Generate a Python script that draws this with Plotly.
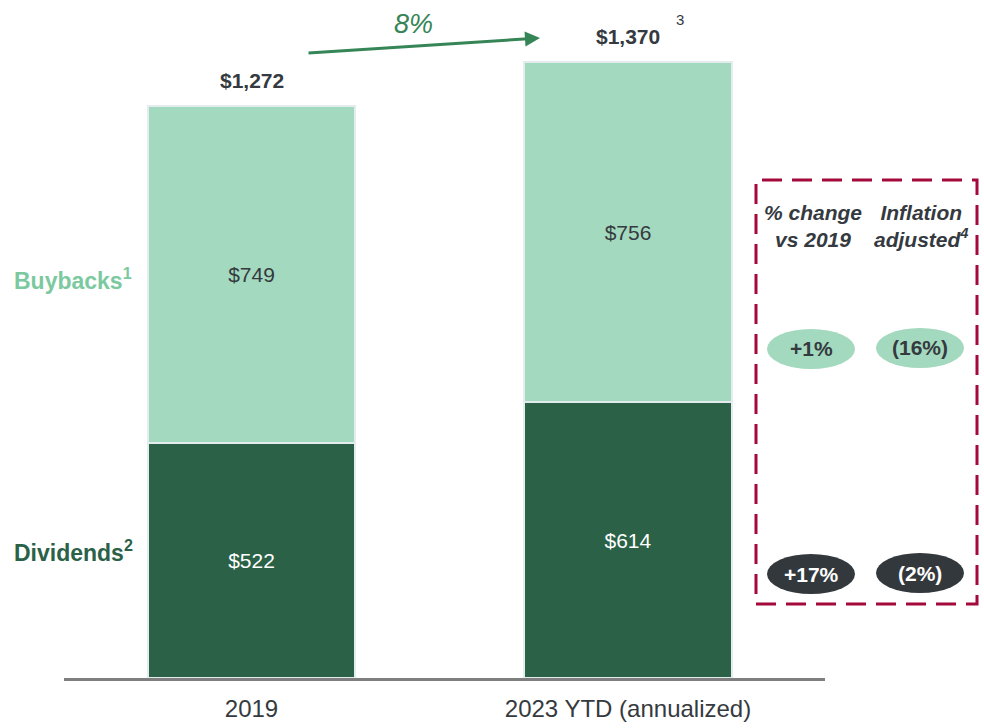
import plotly.graph_objects as go

categories = ["2019", "2023 YTD (annualized)"]
dividends = [522, 614]
buybacks = [749, 756]
totals = [1272, 1370]
total_labels = ["$1,272", "$1,370"]
growth_label = "8%"
pct_change = ["+1%", "+17%"]          # buybacks, dividends
infl_adjusted = ["(16%)", "(2%)"]     # buybacks, dividends

W, H = 984, 728
L, R, T, B = 64, 159, 10, 50
PW, PH = W - L - R, H - T - B


def px(x):
    return (x - L) / PW


def py(y):
    return (H - B - y) / PH


LIGHT = "#A3D9BE"
DARK = "#2A6147"
TXT = "#353A40"
GREEN_TXT = "#7CC9A0"

fig = go.Figure()
fig.add_trace(go.Bar(
    x=categories, y=dividends, name="Dividends",
    marker=dict(color=DARK, line=dict(color="#E4ECEF", width=2)),
    text=[f"${v}" for v in dividends], textposition="inside",
    insidetextanchor="middle", textfont=dict(color="white", size=21),
    width=0.55, constraintext="none",
))
fig.add_trace(go.Bar(
    x=categories, y=buybacks, name="Buybacks",
    marker=dict(color=LIGHT, line=dict(color="#E4ECEF", width=2)),
    text=[f"${v}" for v in buybacks], textposition="inside",
    insidetextanchor="middle", textfont=dict(color=TXT, size=21),
    width=0.55, constraintext="none",
))

font = "Liberation Sans, Arial, sans-serif"


def note(x, y, text, size, color, xanchor="center", yanchor="middle", **kw):
    d = dict(x=x, y=y, xref="paper", yref="paper", text=text, showarrow=False,
             xanchor=xanchor, yanchor=yanchor, font=dict(size=size, color=color))
    d.update(kw)
    return d


ann = []
for i, (t, lab) in enumerate(zip(totals, total_labels)):
    ann.append(dict(x=i, y=t, xref="x", yref="y", text=f"<b>{lab}</b>", showarrow=False,
                    xanchor="center", yanchor="bottom", yshift=12,
                    font=dict(size=21, color=TXT)))
ann.append(dict(x=1, y=totals[1], xref="x", yref="y", text="3", showarrow=False,
                xanchor="center", yanchor="bottom", yshift=32, xshift=52,
                font=dict(size=15, color=TXT)))

# growth arrow
ann.append(dict(x=px(540), y=py(38), xref="paper", yref="paper", ax=307 - 540, ay=53 - 38,
                axref="pixel", ayref="pixel", showarrow=True, arrowhead=2, arrowsize=1,
                arrowwidth=3, arrowcolor="#358556", text=""))
ann.append(note(px(413), py(24), f"<i>{growth_label}</i>", 27, "#358556"))

# left labels
ann.append(note(px(12), py(279), "<b>Buybacks<sup>1</sup></b>", 23, GREEN_TXT, xanchor="left"))
ann.append(note(px(12), py(551), "<b>Dividends<sup>2</sup></b>", 23, DARK, xanchor="left"))

# panel headers
ann.append(note(px(813), py(226), "<b><i>% change<br>vs 2019</i></b>", 21, TXT))
ann.append(note(px(921), py(226), "<b><i>Inflation<br>adjusted<sup>4</sup></i></b>", 21, TXT))

shapes = [dict(type="rect", xref="paper", yref="paper", x0=px(756), x1=px(977),
               y0=py(604), y1=py(180), line=dict(color="#A3093B", width=3, dash="20px,10px"))]

pills = [
    (811, 349, pct_change[0], LIGHT, TXT),
    (920, 348, infl_adjusted[0], LIGHT, TXT),
    (811, 574, pct_change[1], "#33383D", "white"),
    (920, 573, infl_adjusted[1], "#33383D", "white"),
]
for cx, cy, txt, fill, tcol in pills:
    shapes.append(dict(type="circle", xref="paper", yref="paper",
                       x0=px(cx - 44), x1=px(cx + 44), y0=py(cy + 20), y1=py(cy - 20),
                       fillcolor=fill, line=dict(width=0)))
    ann.append(note(px(cx), py(cy), f"<b>{txt}</b>", 21, tcol))

c0, c1 = 251.5, 628
unit = c1 - c0
fig.update_layout(
    width=W, height=H, barmode="stack", showlegend=False,
    margin=dict(l=L, r=R, t=T, b=B, pad=0, autoexpand=False),
    paper_bgcolor="white", plot_bgcolor="white",
    font=dict(family=font, color=TXT),
    bargap=0,
    xaxis=dict(type="category", range=[(L - c0) / unit, 1 + (W - R - c1) / unit],
               showline=True, automargin=False,
               linecolor="#7F7F7F", linewidth=3, ticks="", showgrid=False,
               tickfont=dict(size=24, color=TXT), ticklabelstandoff=7),
    yaxis=dict(range=[0, PH / 0.4497], visible=False, showgrid=False, zeroline=False,
               automargin=False),
    annotations=ann, shapes=shapes,
)
fig.write_html("out.html", config={"displayModeBar": False},
               post_script="document.body.style.margin='0';")
